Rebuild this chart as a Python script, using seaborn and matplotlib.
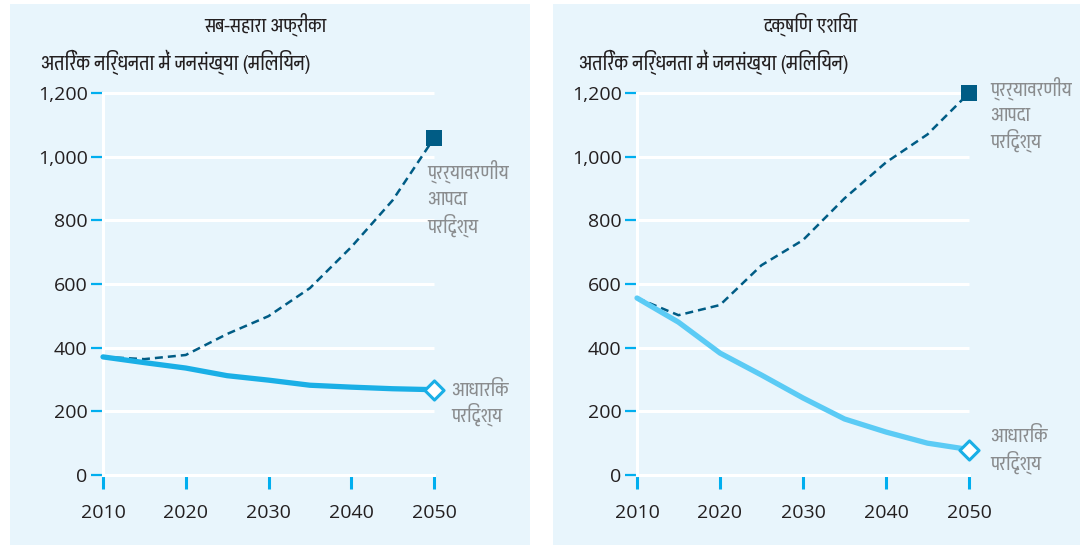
import matplotlib
matplotlib.use("Agg")
import matplotlib.pyplot as plt
import seaborn as sns
from matplotlib import font_manager
from matplotlib.patches import Rectangle

# values (millions of people)
YEARS = [2010, 2015, 2020, 2025, 2030, 2035, 2040, 2045, 2050]
SSA_BASELINE = [371, 353, 336, 312, 298, 282, 276, 271, 268]
SSA_DISASTER = [371, 364, 377, 443, 499, 587, 716, 863, 1058]
SA_BASELINE = [556, 480, 383, 314, 242, 176, 135, 100, 80]
SA_DISASTER = [556, 502, 534, 659, 738, 869, 982, 1070, 1200]

PANEL_TITLES = ["सब-सहारा अफ्रीका", "दक्षिण एशिया"]
Y_LABEL = "अतिरेक निर्धनता में जनसंख्या (मिलियन)"
DISASTER_LABEL = ["प्रर्यावरणीय", "आपदा", "परिदृश्य"]
BASELINE_LABEL = ["आधारिक", "परिदृश्य"]
Y_TICKS = [0, 200, 400, 600, 800, 1000, 1200]
X_TICKS = [2010, 2020, 2030, 2040, 2050]

W, H = 1088, 546
PANEL_BG = "#E8F5FC"
DARK = "#005C85"
TICK_BLUE = "#00AEEF"
GREY = "#8A8C8E"
INK = "#231F20"


def pick_devanagari() -> list[str]:
    names = {f.name for f in font_manager.fontManager.ttflist}
    wanted = ["Pragati Narrow", "Noto Sans Devanagari", "Sarala"]
    return [n for n in wanted if n in names] + ["DejaVu Sans"]


def axes_at(fig, x2010, x2050, y0, y1200):
    # axes origin sits on (2010, 0) so the white spines act as zero line / left rule
    sx = (x2050 - x2010) / 40
    sy = (y0 - y1200) / 1200
    right = x2050 + 4 * sx
    top = y1200 - 60 * sy
    ax = fig.add_axes([x2010 / W, 1 - y0 / H, (right - x2010) / W, (y0 - top) / H])
    ax.set_xlim(2010, 2054)
    ax.set_ylim(0, 1260)
    return ax


def stacked_label(fig, lines, x, y_first, step=27):
    # one text per line so the spacing stays even whatever the matras do
    for i, line in enumerate(lines):
        fig.text(x / W, 1 - (y_first + i * step) / H, line, ha="left",
                 va="baseline", fontsize=15, color=GREY, family=DEVA)


def draw_panel(ax, base, disaster, base_color):
    ax.set_facecolor("none")
    for side in ["top", "right"]:
        ax.spines[side].set_visible(False)
    for side in ["left", "bottom"]:
        ax.spines[side].set_color("white")
        ax.spines[side].set_linewidth(2.2)
        ax.spines[side].set_zorder(1)
    ax.spines["left"].set_bounds(0, 1200)
    ax.spines["bottom"].set_bounds(2010, 2050)
    ax.hlines(Y_TICKS[1:], 2010, 2050, color="white", lw=2.2, zorder=1)

    sns.lineplot(x=YEARS, y=disaster, ax=ax, color=DARK, lw=1.8,
                 linestyle=(0, (3.2, 2.0)), zorder=3, clip_on=False)
    sns.lineplot(x=YEARS, y=base, ax=ax, color=base_color, lw=3.8,
                 solid_capstyle="round", zorder=3, clip_on=False)
    sns.scatterplot(x=[YEARS[-1]], y=[disaster[-1]], ax=ax, marker="s", s=130,
                    color=DARK, edgecolor=DARK, linewidth=0, zorder=5, clip_on=False)
    sns.scatterplot(x=[YEARS[-1]], y=[base[-1]], ax=ax, marker="D", s=95,
                    color="white", edgecolor="#1AAFE6", linewidth=2.2, zorder=5,
                    clip_on=False)

    ax.set_xticks(X_TICKS, labels=[str(x) for x in X_TICKS])
    ax.set_yticks(Y_TICKS, labels=[f"{v:,}" for v in Y_TICKS])
    ax.tick_params(axis="y", left=True, length=9, width=1.6, color=TICK_BLUE,
                   pad=2, labelsize=14, labelcolor=INK)
    ax.tick_params(axis="x", bottom=True, length=10, width=2.2, color=TICK_BLUE,
                   pad=11, labelsize=14, labelcolor=INK)
    for lab in ax.get_xticklabels() + ax.get_yticklabels():
        lab.set_family(["Open Sans", "DejaVu Sans"])
    ax.set_xlabel("")
    ax.set_ylabel("")


sns.set_theme(style="white")
DEVA = pick_devanagari()
plt.rcParams["font.family"] = DEVA

fig = plt.figure(figsize=(W / 100, H / 100), dpi=100, facecolor="white")

# light blue panel backgrounds
for x0, x1 in [(10, 530), (553, 1080)]:
    fig.patches.append(Rectangle((x0 / W, 1 - 545 / H), (x1 - x0) / W, 541 / H,
                                 transform=fig.transFigure, facecolor=PANEL_BG,
                                 edgecolor="none", zorder=-5))

ax1 = axes_at(fig, 103, 434, 475, 93)
ax2 = axes_at(fig, 637, 969, 475, 93)

draw_panel(ax1, SSA_BASELINE, SSA_DISASTER, "#1AAFE6")
draw_panel(ax2, SA_BASELINE, SA_DISASTER, "#5BCBF5")

stacked_label(fig, DISASTER_LABEL, 427, 178)
stacked_label(fig, BASELINE_LABEL, 451, 396, step=25)
stacked_label(fig, DISASTER_LABEL, 990, 95, step=26)
stacked_label(fig, BASELINE_LABEL, 990, 442)

for (cx, lx), title in zip([(265, 41), (810, 579)], PANEL_TITLES):
    fig.text(cx / W, 1 - 24 / H, title, ha="center", va="center",
             fontsize=15, color=INK, family=DEVA)
    fig.text(lx / W, 1 - 62 / H, Y_LABEL, ha="left", va="center",
             fontsize=15.5, style="italic", color=INK, family=DEVA)

fig.savefig("out.png", dpi=100, facecolor="white")
